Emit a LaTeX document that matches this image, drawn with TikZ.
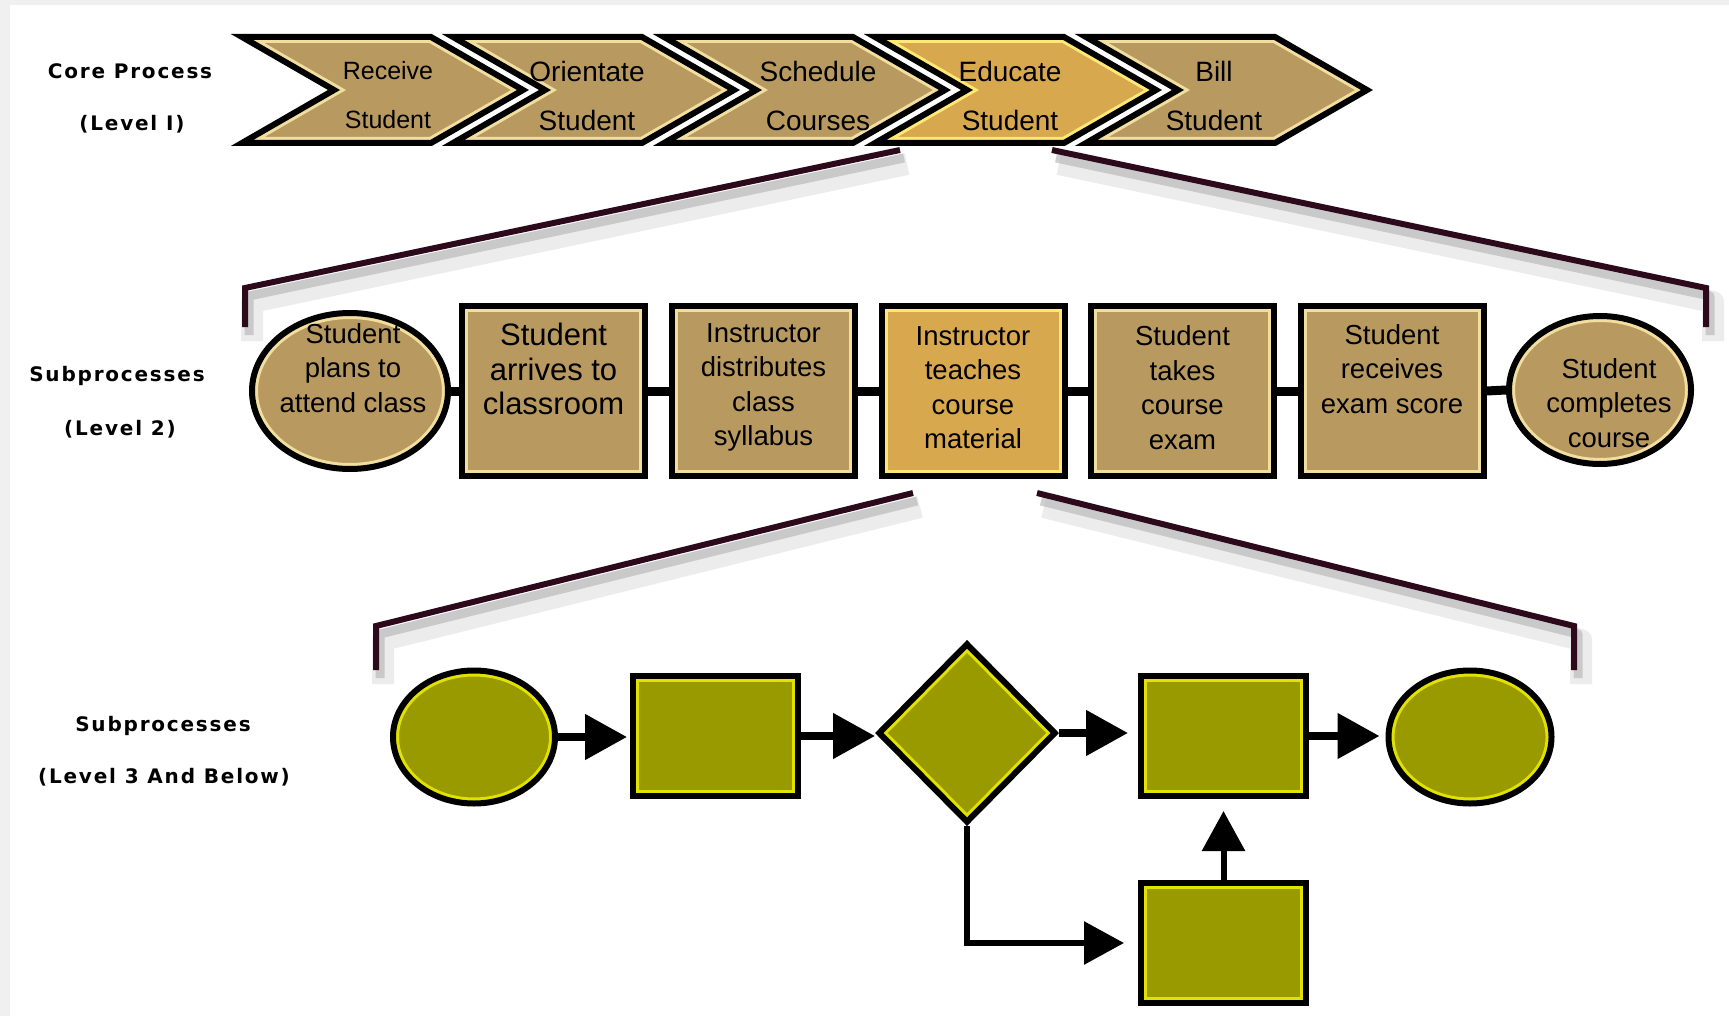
\documentclass[tikz,border=0pt]{standalone}
\usepackage{fontspec}
\setmainfont{Liberation Sans}
\newfontfamily\lblfont[LetterSpace=9]{DejaVu Sans}
\usetikzlibrary{shapes.geometric,arrows.meta,calc}
\definecolor{cTan}{HTML}{B89A60}
\definecolor{cTanHL}{HTML}{F2DE9E}
\definecolor{cGold}{HTML}{D8A84E}
\definecolor{cGoldHL}{HTML}{FFE873}
\definecolor{cOlive}{HTML}{999900}
\definecolor{cOliveHL}{HTML}{E2E200}
\definecolor{cBr}{HTML}{2C0A1C}
\definecolor{cFrame}{HTML}{F0F0F0}
\newcommand\chevron[4]{%
  \fill[#2] (#1,37) -- ++(189,0) -- ++(92,53) -- ++(-92,53) -- ++(-189,0) -- ++(92,-53) -- cycle;
  \begin{scope}
    \clip (#1,37) -- ++(189,0) -- ++(92,53) -- ++(-92,53) -- ++(-189,0) -- ++(92,-53) -- cycle;
    \draw[#3,line width=12] (#1,37) -- ++(189,0) -- ++(92,53) -- ++(-92,53) -- ++(-189,0) -- ++(92,-53) -- cycle;
  \end{scope}
  \draw[black,line width=6,line join=miter] (#1,37) -- ++(189,0) -- ++(92,53) -- ++(-92,53) -- ++(-189,0) -- ++(92,-53) -- cycle;
}
\begin{document}
\begin{tikzpicture}[x=1pt,y=-1pt,
  chevtxt/.style={font=\fontsize{28}{49}\selectfont,align=center,inner sep=0},
  l2txt/.style={font=\fontsize{27.5}{34.5}\selectfont,align=center,inner sep=0},
  lbl/.style={font=\lblfont\bfseries\fontsize{20}{24}\selectfont,inner sep=0},
  rectHL/.style={path picture={\draw[draw=#1,line width=12] (path picture bounding box.south west) rectangle (path picture bounding box.north east);}},
  ellHL/.style={path picture={\draw[draw=#1,line width=12] let \p1=(path picture bounding box.north east), \p2=(path picture bounding box.center) in (\p2) ellipse [x radius=\x1-\x2, y radius=\y1-\y2];}},
  diaHL/.style={path picture={\draw[draw=#1,line width=12,line join=miter] (path picture bounding box.north) -- (path picture bounding box.east) -- (path picture bounding box.south) -- (path picture bounding box.west) -- cycle;}},
  l2box/.style={rectangle,draw=black,line width=6,fill=cTan,rectHL=cTanHL,inner sep=0,minimum width=183,minimum height=170},
  l2gold/.style={l2box,fill=cGold,rectHL=cGoldHL},
  l2ell/.style={ellipse,draw=black,line width=6,fill=cTan,ellHL=cTanHL,inner sep=0},
  l3box/.style={rectangle,draw=black,line width=6,fill=cOlive,rectHL=cOliveHL,inner sep=0,minimum width=165,minimum height=120},
  l3ell/.style={ellipse,draw=black,line width=6,fill=cOlive,ellHL=cOliveHL,inner sep=0,minimum width=162,minimum height=133},
  l3dia/.style={diamond,draw=black,line width=6,fill=cOlive,diaHL=cOliveHL,inner sep=0,minimum width=178,minimum height=180,line join=miter},
  link/.style={black,line width=9},
  arr/.style={black,line width=8,-{Triangle[length=42pt,width=44pt]}},
  arrb/.style={black,line width=6,-{Triangle[length=40pt,width=42pt]}},
  brk/.style={cBr,line width=6,line join=miter},
  brkshA/.style={black!12,line width=22,opacity=0.6,line join=round},
  brkshB/.style={black!30,line width=9,opacity=0.6,line join=round}
]
\useasboundingbox (0,0) rectangle (1729,1016);
\fill[white] (0,0) rectangle (1729,1016);
\fill[cFrame] (0,0) rectangle (10,1016);
\fill[cFrame] (0,0) rectangle (1729,5);

% Level I chevrons
\chevron{242}{cTan}{cTanHL}{}
\chevron{453}{cTan}{cTanHL}{}
\chevron{664}{cTan}{cTanHL}{}
\chevron{875}{cGold}{cGoldHL}{}
\chevron{1086}{cTan}{cTanHL}{}
\node[chevtxt,font=\fontsize{25}{49}\selectfont] (c1) at (388,95.5) {Receive\\Student};
\node[chevtxt] (c2) at (587,95.5) {Orientate\\Student};
\node[chevtxt] (c3) at (818,95.5) {Schedule\\Courses};
\node[chevtxt] (c4) at (1010,95.5) {Educate\\Student};
\node[chevtxt] (c5) at (1214,95.5) {Bill\\Student};

% labels
\node[lbl] (la1) at (130,71) {Core Process};
\node[lbl] (lb1) at (132,124) {(Level I)};
\node[lbl] (la2) at (117,376) {Subprocesses};
\node[lbl] (lb2) at (120,429) {(Level 2)};
\node[lbl] (la3) at (163,726) {Subprocesses};
\node[lbl] (lb3) at (164,777) {(Level 3 And Below)};

% bracket 1 coordinates
\coordinate (b1ls) at (900,150);
\coordinate (b1lc) at (245,288);
\coordinate (b1le) at (245,327);
\coordinate (b1rs) at (1052,150);
\coordinate (b1rc) at (1706,288);
\coordinate (b1re) at (1706,327);
% bracket 2 coordinates
\coordinate (b2ls) at (913,493);
\coordinate (b2lc) at (376,626);
\coordinate (b2le) at (376,670);
\coordinate (b2rs) at (1037,493);
\coordinate (b2rc) at (1574,626);
\coordinate (b2re) at (1574,670);

\foreach \s/\c/\e in {b1ls/b1lc/b1le,b1rs/b1rc/b1re,b2ls/b2lc/b2le,b2rs/b2rc/b2re}{
  \draw[brkshA] ([shift={(7,14)}]\s) -- ([shift={(7,14)}]\c) -- ([shift={(7,14)}]\e);
  \draw[brkshB] ([shift={(4,8)}]\s) -- ([shift={(4,8)}]\c) -- ([shift={(4,8)}]\e);
  \draw[brk] (\s) -- (\c) -- (\e);
}

% Level 2
\node[l2ell,minimum width=196,minimum height=156] (e1) at (350,391) {};
\node[l2box] (s2) at (553.5,391) {};
\node[l2box] (s3) at (763.5,391) {};
\node[l2gold] (s4) at (973,391) {};
\node[l2box] (s5) at (1182.5,391) {};
\node[l2box] (s6) at (1392,391) {};
\node[l2ell,minimum width=182,minimum height=148] (e7) at (1600,390) {};
\draw[link] (e1.east) -- (s2.west);
\draw[link] (s2.east) -- (s3.west);
\draw[link] (s3.east) -- (s4.west);
\draw[link] (s4.east) -- (s5.west);
\draw[link] (s5.east) -- (s6.west);
\draw[link] (s6.east) -- (e7.west);

\node[l2txt] (t1) at (353,368) {Student\\plans to\\attend class};
\node[l2txt,font=\fontsize{31}{34.5}\selectfont] (t2) at (553.5,369) {Student\\arrives to\\classroom};
\node[l2txt] (t3) at (763.5,387.5) {Instructor\\distributes\\class\\syllabus};
\node[l2txt] (t4) at (973,387.5) {Instructor\\teaches\\course\\material};
\node[l2txt] (t5) at (1182.5,387.5) {Student\\takes\\course\\exam};
\node[l2txt] (t6) at (1392,369) {Student\\receives\\exam score};
\node[l2txt] (t7) at (1609,403) {Student\\completes\\course};

% Level 3
\node[l3ell] (A) at (474,737) {};
\node[l3box] (B) at (715.5,736) {};
\node[l3dia] (C) at (967,733) {};
\node[l3box] (D) at (1223.5,736) {};
\node[l3ell,minimum width=163] (E) at (1470,737) {};
\node[l3box] (F) at (1223.5,943) {};
\draw[arr,shorten >=3] (A.east) -- (A.east -| B.west);
\draw[arr] (B.east) -- (B.east -| C.west);
\draw[arr,shorten >=10] (C.east) -- (C.east -| D.west);
\draw[arr,shorten >=6] (D.east) -- (D.east -| E.west);
\draw[arrb,shorten >=14] (C.south) |- (F.west);
\draw[arrb,shorten >=12] (F.north) -- (D.south);
\end{tikzpicture}
\end{document}
